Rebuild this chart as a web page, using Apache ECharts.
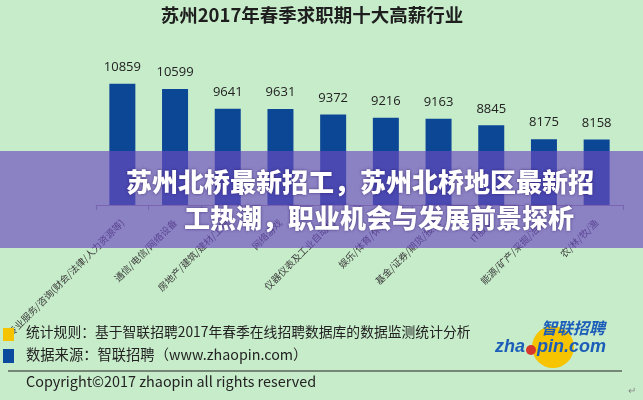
<!DOCTYPE html>
<html><head><meta charset="utf-8">
<script src="https://cdn.jsdelivr.net/npm/echarts@6/dist/echarts.min.js"></script>
<style>html,body{margin:0;padding:0;background:#c7ecca}#c{width:643px;height:400px}</style>
</head><body><div id="c"></div>
<script>
const title = '苏州2017年春季求职期十大高薪行业';
const categories = ['专业服务/咨询(财会/法律/人力资源等)','通信/电信/网络设备','房地产/建筑/建材/工程','网络游戏','仪器仪表及工业自动化','娱乐/体育/休闲','基金/证券/期货/投资','IT服务','能源/矿产/采掘/冶炼','农/林/牧/渔'];
const salaries = [10859,10599,9641,9631,9372,9216,9163,8845,8175,8158];
const bannerLines = ['苏州北桥最新招工，苏州北桥地区最新招','工热潮，职业机会与发展前景探析'];
const noteRule = '统计规则：基于智联招聘2017年春季在线招聘数据库的数据监测统计分析';
const noteSource = '数据来源：智联招聘（www.zhaopin.com）';
const copyright = 'Copyright©2017 zhaopin all rights reserved';

const chart = echarts.init(document.getElementById('c'));
const cjk = '"Noto Sans CJK SC", sans-serif';
chart.setOption({
  backgroundColor: '#c7ecca',
  animation: false,
  title: {text: title, left: 307, top: 1, textAlign: 'center',
    textStyle: {fontFamily: cjk, fontSize: 18.5, fontWeight: 'bold', color: '#1e1e1e'}},
  grid: {left: 96, right: 20, top: 60, bottom: 195},
  xAxis: {type: 'category', data: categories,
    axisLine: {lineStyle: {color: '#9a9a9a'}},
    axisTick: {show: true, lineStyle: {color: '#9a9a9a'}},
    axisLabel: {rotate: 45, interval: 0, margin: 16, fontSize: 9.5, color: '#3a3a3a', fontFamily: cjk}},
  yAxis: {type: 'value', min: 5000, max: 12000, show: false, splitLine: {show: false}},
  series: [{type: 'bar', data: salaries, barWidth: 26,
    itemStyle: {color: '#0b4795'},
    label: {show: true, position: 'top', distance: 10, fontSize: 13,
      fontFamily: '"Open Sans", sans-serif', color: '#222'}}],
  graphic: [
    {type: 'rect', z: 100, shape: {x: 0, y: 151, width: 643, height: 97},
      style: {fill: 'rgba(108,74,193,0.66)'}},
    {type: 'text', z: 101, left: 126, top: 169,
      style: {text: bannerLines[0], fill: '#fff', font: '900 26px ' + cjk,
        textShadowColor: 'rgba(40,20,90,0.7)', textShadowBlur: 3}},
    {type: 'text', z: 101, left: 184, top: 205,
      style: {text: bannerLines[1], fill: '#fff', font: '900 26px ' + cjk,
        textShadowColor: 'rgba(40,20,90,0.7)', textShadowBlur: 3}},
    {type: 'rect', z: 50, shape: {x: 3, y: 328, width: 11, height: 13}, style: {fill: '#f5c300'}},
    {type: 'rect', z: 50, shape: {x: 3, y: 349, width: 11, height: 14}, style: {fill: '#0b4a9c'}},
    {type: 'text', z: 50, left: 26, top: 325,
      style: {text: noteRule, fill: '#222', font: '13.8px ' + cjk}},
    {type: 'text', z: 50, left: 26, top: 347,
      style: {text: noteSource, fill: '#222', font: '14.3px ' + cjk}},
    {type: 'line', z: 50, shape: {x1: 8, y1: 371, x2: 622, y2: 371}, style: {stroke: '#222', lineWidth: 1}},
    {type: 'text', z: 50, left: 26, top: 374,
      style: {text: copyright, fill: '#222', font: '14.4px ' + cjk}},
    {type: 'circle', z: 50, shape: {cx: 553, cy: 347, r: 21}, style: {fill: '#f6c400'}},
    {type: 'text', z: 51, left: 541, top: 320,
      style: {text: '智联招聘', fill: '#1b5db9', font: 'italic bold 16px ' + cjk}},
    {type: 'text', z: 51, left: 495, top: 338,
      style: {text: 'zha', fill: '#1b5db9', font: 'italic bold 18px "Liberation Sans", sans-serif'}},
    {type: 'circle', z: 51, shape: {cx: 531, cy: 350, r: 5}, style: {fill: '#d8382b'}},
    {type: 'text', z: 51, left: 537, top: 338,
      style: {text: 'pin.com', fill: '#1b5db9', font: 'italic bold 18px "Liberation Sans", sans-serif'}},
    {type: 'text', z: 50, left: 628, top: 386, style: {text: '↵', fill: '#888', font: '10px sans-serif'}}
  ]
});
</script></body></html>
